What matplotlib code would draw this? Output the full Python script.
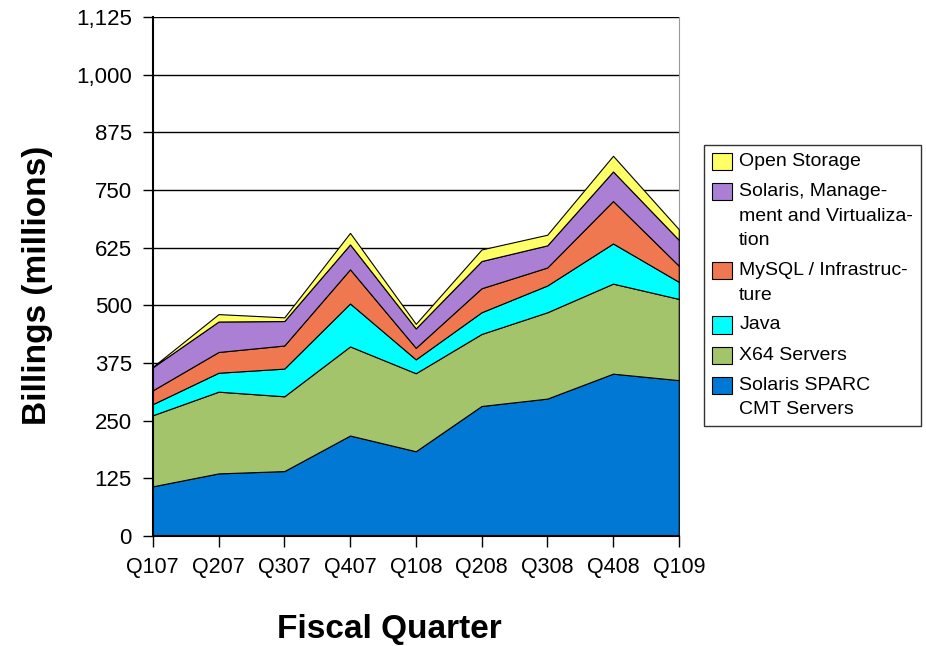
"""
Sun billings by product line - stacked area chart
"""

import numpy as np
import matplotlib.pyplot as plt

plt.rcParams['font.family'] = ['Liberation Sans', 'DejaVu Sans']

# ======================================================
# DATA
# ======================================================

quarters = ["Q107", "Q207", "Q307", "Q407", "Q108", "Q208", "Q308", "Q408", "Q109"]

sparc_cmt = [108, 136, 141, 218, 184, 282, 298, 352, 338]
x64_servers = [154, 177, 162, 193, 169, 156, 187, 195, 176]
java = [24, 41, 60, 93, 30, 47, 58, 87, 37]
mysql_infra = [30, 45, 50, 74, 25, 52, 39, 92, 35]
solaris_mgmt = [50, 66, 53, 54, 42, 59, 48, 64, 56]
open_storage = [1, 16, 8, 25, 10, 25, 23, 34, 23]

labels = [
    "Solaris SPARC\nCMT Servers",
    "X64 Servers",
    "Java",
    "MySQL / Infrastruc-\nture",
    "Solaris, Manage-\nment and Virtualiza-\ntion",
    "Open Storage",
]
colors = ["#0078D4", "#A4C46C", "#00FFFF", "#F07850", "#AA7FD4", "#FFFF66"]

yticks = [0, 125, 250, 375, 500, 625, 750, 875, 1000, 1125]


# ======================================================
# PLOT
# ======================================================

fig = plt.figure(figsize=(9.26, 6.46), dpi=100)
ax = fig.add_axes([0.165, 0.170, 0.568, 0.804])

x = np.arange(len(quarters))
series = [sparc_cmt, x64_servers, java, mysql_infra, solaris_mgmt, open_storage]

ax.stackplot(x, *series, colors=colors, labels=labels,
             edgecolor="black", linewidth=0.8, zorder=3)

ax.set_xlim(0, len(quarters) - 1)
ax.set_ylim(0, 1125)
ax.set_yticks(yticks)
ax.set_yticklabels([f"{v:,}" for v in yticks], fontsize=16)
ax.set_xticks(x)
ax.set_xticklabels(quarters, fontsize=15.5)

# gridlines
ax.yaxis.grid(True, color="black", linewidth=1.0, zorder=1)
ax.set_axisbelow(True)

ax.spines["top"].set_visible(False)
ax.spines["right"].set_color("#999999")
ax.spines["left"].set_linewidth(1.5)
ax.spines["bottom"].set_linewidth(1.5)
ax.spines["left"].set_zorder(5)
ax.spines["bottom"].set_zorder(5)
ax.tick_params(axis="y", direction="out", length=7, width=1.0, pad=8)
ax.tick_params(axis="x", direction="out", length=8, width=1.0, pad=7)

ax.set_ylabel("Billings (millions)", fontsize=24, fontweight="bold")
ax.yaxis.set_label_coords(-0.190, 0.4836)
ax.set_xlabel("Fiscal Quarter", fontsize=24, fontweight="bold")
ax.xaxis.label.set_va("baseline")
ax.xaxis.set_label_coords(0.4506, -0.197)

# legend, top entry first
handles, labs = ax.get_legend_handles_labels()
leg = fig.legend(handles[::-1], labs[::-1], loc="upper left",
                 bbox_to_anchor=(704 / 926, 1 - 145 / 646),
                 fontsize=14, frameon=True, fancybox=False,
                 edgecolor="black", handlelength=1.05, handleheight=1.0,
                 handletextpad=0.36, labelspacing=0.65, borderpad=0.4,
                 borderaxespad=0)
leg.get_frame().set_linewidth(1.0)
for t in leg.get_texts():
    t.set_linespacing(1.6)

# swatches sit next to the first line of wrapped labels
for col in leg._legend_handle_box.get_children():
    for row in col.get_children():
        row.align = "top"

plt.savefig("out.png", dpi=100)
plt.close()
